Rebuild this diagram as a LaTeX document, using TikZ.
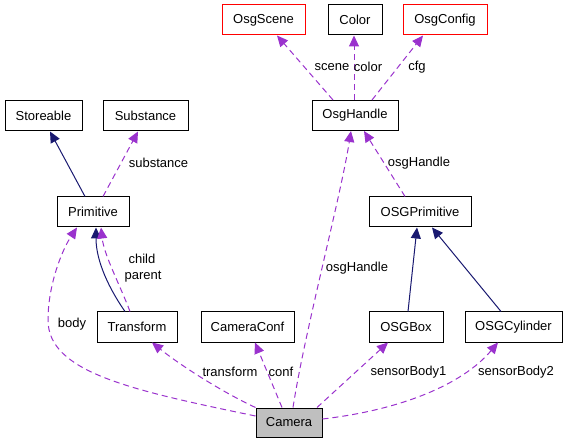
\documentclass[tikz,border=0pt]{standalone}
\usepackage{fontspec}
\setmainfont{Liberation Sans}
\usetikzlibrary{arrows.meta}
\definecolor{edgepurple}{RGB}{154,50,205}
\definecolor{edgenavy}{RGB}{25,25,112}
\begin{document}
\begin{tikzpicture}[x=1pt,y=-1pt,
  every node/.style={font=\fontsize{13}{15}\selectfont},
  box/.style={draw=black, line width=1pt, fill=white, minimum height=30pt, inner sep=0pt},
  redbox/.style={box, draw=red},
  mainbox/.style={box, fill=black!25},
  uses/.style={draw=edgepurple, line width=1pt, dash pattern=on 6pt off 4pt, -{Triangle[length=11pt,width=10pt,fill=edgepurple]}},
  inherit/.style={draw=edgenavy, line width=1pt, -{Triangle[length=11pt,width=10pt,fill=edgenavy]}},
  lbl/.style={inner sep=1pt}
]
\useasboundingbox (0,0) rectangle (567,443);

% nodes
\node[redbox, minimum width=83pt] (scene) at (263.5,20) {OsgScene};
\node[box, minimum width=54pt] (color) at (355,20) {Color};
\node[redbox, minimum width=84pt] (config) at (445,20) {OsgConfig};
\node[box, minimum width=86pt] (handle) at (355,115.5) {OsgHandle};
\node[box, minimum width=77pt] (store) at (43.5,116) {Storeable};
\node[box, minimum width=85pt] (subst) at (145.5,116) {Substance};
\node[box, minimum width=72pt] (prim) at (93,212) {Primitive};
\node[box, minimum width=102pt] (osgprim) at (420,212) {OSGPrimitive};
\node[box, minimum width=80pt] (trans) at (137,327) {Transform};
\node[box, minimum width=93pt] (camconf) at (247.5,327) {CameraConf};
\node[box, minimum width=74pt] (osgbox) at (406,327) {OSGBox};
\node[box, minimum width=97pt] (osgcyl) at (513.5,327) {OSGCylinder};
\node[mainbox, minimum width=66pt, minimum height=29pt] (cam) at (289,422.5) {Camera};

% inheritance edges
\draw[inherit] ([xshift=-8pt]prim.north) -- ([xshift=6.5pt]store.south);
\draw[inherit] ([xshift=-12pt]trans.north) .. controls (110,290) and (96,262) .. ([xshift=3pt]prim.south);
\draw[inherit] ([xshift=2pt]osgbox.north) -- ([xshift=-3pt]osgprim.south);
\draw[inherit] ([xshift=-12.5pt]osgcyl.north) -- ([xshift=12pt]osgprim.south);

% usage edges
\draw[uses] ([xshift=10pt]prim.north) -- ([xshift=-7.5pt]subst.south);
\node[lbl] (lsubst) at (158.5,163) {substance};

\draw[uses] ([xshift=-7pt]trans.north) .. controls (120,285) and (104,255) .. ([xshift=8pt]prim.south);
\node[lbl] (lchild) at (142,259) {child};
\node[lbl] (lparent) at (143,277) {parent};

\draw[uses] ([yshift=6.5pt]cam.west) .. controls (130,390) and (48,372) .. (48,320)
  .. controls (48,285) and (62,250) .. ([xshift=-16pt]prim.south);
\node[lbl] (lbody) at (72,324) {body};

\draw[uses] (cam.north west) .. controls (222,392) and (180,365) .. ([xshift=15pt]trans.south);
\node[lbl] (ltrans) at (230,372) {transform};

\draw[uses] ([xshift=-7pt]cam.north) -- ([xshift=7.5pt]camconf.south);
\node[lbl] (lconf) at (281,372) {conf};

\draw[uses] ([xshift=4pt]cam.north) .. controls (305,330) and (340,200) .. ([xshift=-4pt]handle.south);
\node[lbl] (lhandle1) at (357,268) {osgHandle};

\draw[uses] ([xshift=28pt]cam.north) -- ([xshift=-18pt]osgbox.south);
\node[lbl] (lsb1) at (408.5,372) {sensorBody1};

\draw[uses] ([yshift=3.5pt]cam.east) .. controls (400,410) and (462,385) .. ([xshift=-15.5pt]osgcyl.south);
\node[lbl] (lsb2) at (516,372) {sensorBody2};

\draw[uses] ([xshift=-15pt]osgprim.north) -- ([xshift=9pt]handle.south);
\node[lbl] (lhandle2) at (419,163) {osgHandle};

\draw[uses] ([xshift=-22pt]handle.north) -- ([xshift=13.5pt]scene.south);
\node[lbl] (lscene) at (332,67) {scene};
\draw[uses] ([xshift=-1pt]handle.north) -- ([xshift=-1pt]color.south);
\node[lbl] (lcolor) at (368,67) {color};
\draw[uses] ([xshift=17pt]handle.north) -- ([xshift=-22pt]config.south);
\node[lbl] (lcfg) at (417,67) {cfg};
\end{tikzpicture}
\end{document}
